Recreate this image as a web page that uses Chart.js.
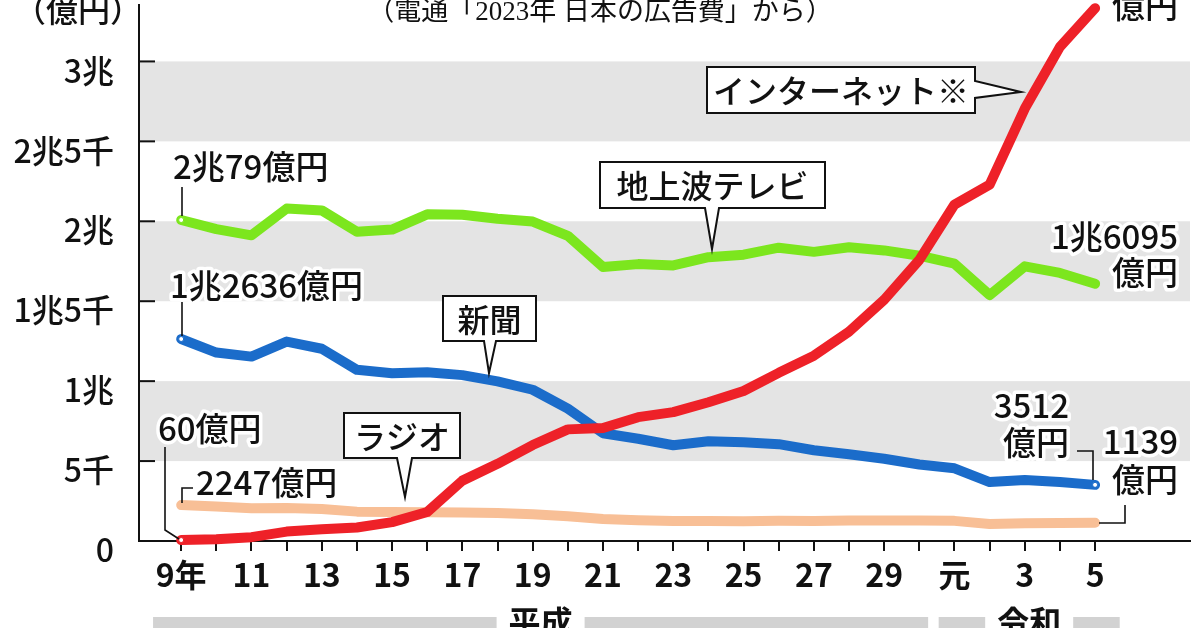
<!DOCTYPE html>
<html lang="ja">
<head>
<meta charset="UTF-8">
<title>日本の広告費の推移</title>
<script src="https://cdn.jsdelivr.net/npm/chart.js"></script>
<style>
  body { margin: 0; background: #fff; }
  #wrap { width: 1200px; height: 628px; }
</style>
</head>
<body>
<div id="wrap"><canvas id="adChart" width="1200" height="628"></canvas></div>
<script>
// 電通「2023年 日本の広告費」 平成9年(1997)〜令和5年(2023) 単位:億円
const years = [1997, 1998, 1999, 2000, 2001, 2002, 2003, 2004, 2005, 2006, 2007, 2008, 2009,
               2010, 2011, 2012, 2013, 2014, 2015, 2016, 2017, 2018, 2019, 2020, 2021, 2022, 2023];
const yearLabels = ['9年', '', '11', '', '13', '', '15', '', '17', '', '19', '', '21', '',
                    '23', '', '25', '', '27', '', '29', '', '元', '', '3', '', '5'];

const internet  = [60, 114, 241, 590, 735, 845, 1183, 1814, 3777, 4826, 6003, 6983, 7069,
                   7747, 8062, 8680, 9381, 10519, 11594, 13100, 15094, 17589, 21048, 22290, 27052, 30912, 33330];
const tv        = [20079, 19505, 19121, 20793, 20681, 19351, 19480, 20436, 20411, 20161, 19981, 19092, 17139,
                   17321, 17237, 17757, 17913, 18347, 18088, 18374, 18178, 17848, 17345, 15386, 17184, 16768, 16095];
const newspaper = [12636, 11787, 11535, 12474, 12027, 10707, 10500, 10559, 10377, 9986, 9462, 8276, 6739,
                   6396, 5990, 6242, 6170, 6057, 5679, 5431, 5147, 4784, 4547, 3688, 3815, 3697, 3512];
const radio     = [2247, 2153, 2043, 2071, 1998, 1837, 1807, 1795, 1778, 1744, 1671, 1549, 1370,
                   1299, 1247, 1246, 1243, 1272, 1254, 1285, 1290, 1278, 1260, 1066, 1106, 1129, 1139];

const yTicks = [0, 5000, 10000, 15000, 20000, 25000, 30000];
const yTickLabels = ['0', '5千', '1兆', '1兆5千', '2兆', '2兆5千', '3兆'];
const bands = [[5000, 10000], [15000, 20000], [25000, 30000]];
const eras = [{ name: '平成', from: 1996.2, to: 2018.25 }, { name: '令和', from: 2018.55, to: 2023.7 }];

const JP = "'Noto Sans CJK JP', 'Noto Sans', sans-serif";
const font = (size, weight) => `${weight || 500} ${size}px ${JP}`;

function haloText(ctx, text, x, y, align, size, weight) {
  ctx.save();
  ctx.font = font(size, weight);
  ctx.textAlign = align;
  ctx.textBaseline = 'middle';
  ctx.lineJoin = 'round';
  ctx.strokeStyle = '#fff';
  ctx.lineWidth = 7;
  ctx.strokeText(text, x, y);
  ctx.fillStyle = '#111';
  ctx.fillText(text, x, y);
  ctx.restore();
}

function leader(ctx, pts) {
  ctx.save();
  ctx.strokeStyle = '#111';
  ctx.lineWidth = 1.6;
  ctx.beginPath();
  pts.forEach((p, i) => i ? ctx.lineTo(p[0], p[1]) : ctx.moveTo(p[0], p[1]));
  ctx.stroke();
  ctx.restore();
}

// box: [l, t, r, b]; side 'bottom' or 'right'; base: [a, b] along that edge; tip: [x, y]
function callout(ctx, text, box, side, base, tip) {
  const [l, t, r, b] = box;
  ctx.save();
  ctx.beginPath();
  ctx.moveTo(l, t);
  ctx.lineTo(r, t);
  if (side === 'right') {
    ctx.lineTo(r, base[0]); ctx.lineTo(tip[0], tip[1]); ctx.lineTo(r, base[1]);
    ctx.lineTo(r, b); ctx.lineTo(l, b);
  } else {
    ctx.lineTo(r, b); ctx.lineTo(base[1], b); ctx.lineTo(tip[0], tip[1]); ctx.lineTo(base[0], b);
    ctx.lineTo(l, b);
  }
  ctx.closePath();
  ctx.fillStyle = '#fff';
  ctx.fill();
  ctx.strokeStyle = '#111';
  ctx.lineWidth = 2;
  ctx.lineJoin = 'miter';
  ctx.stroke();
  ctx.font = font(32, 500);
  ctx.fillStyle = '#111';
  ctx.textAlign = 'center';
  ctx.textBaseline = 'middle';
  ctx.fillText(text, (l + r) / 2, (t + b) / 2 + 1);
  ctx.restore();
}

const decor = {
  id: 'decor',
  beforeDraw(chart) {
    const { ctx, chartArea: a, scales: { y } } = chart;
    ctx.save();
    ctx.fillStyle = '#fff';
    ctx.fillRect(0, 0, chart.width, chart.height);
    ctx.fillStyle = '#e4e4e4';
    bands.forEach(([lo, hi]) => {
      const top = y.getPixelForValue(hi), bot = y.getPixelForValue(lo);
      ctx.fillRect(a.left + 1, top, a.right - a.left - 1, bot - top);
    });
    ctx.restore();
  },
  beforeDatasetsDraw(chart) {
    const { ctx, chartArea: a, scales: { y } } = chart;
    ctx.save();
    ctx.strokeStyle = '#111';
    ctx.lineWidth = 2;
    yTicks.forEach(v => {
      const py = y.getPixelForValue(v);
      ctx.beginPath();
      ctx.moveTo(a.left, py);
      ctx.lineTo(a.left + 16, py);
      ctx.stroke();
    });
    ctx.restore();
  },
  afterDatasetsDraw(chart) {
    const { ctx, scales: { x } } = chart;

    // header
    ctx.save();
    ctx.fillStyle = '#111';
    ctx.textBaseline = 'middle';
    ctx.font = font(32, 500);
    ctx.textAlign = 'left';
    ctx.fillText('（億円）', 14, 10);
    ctx.font = "27px 'Liberation Serif', 'Noto Sans CJK JP', serif";
    ctx.textAlign = 'center';
    ctx.fillText('（電通「2023年 日本の広告費」から）', 600, 13);
    ctx.restore();

    // era bars
    ctx.save();
    ctx.font = font(32, 700);
    eras.forEach(e => {
      const l = x.getPixelForValue(e.from), r = x.getPixelForValue(e.to);
      const mid = (l + r) / 2;
      const half = ctx.measureText(e.name).width / 2 + 12;
      ctx.fillStyle = '#d2d2d2';
      ctx.fillRect(l, 617, mid - half - l, 11);
      ctx.fillRect(mid + half, 617, r - mid - half, 11);
      ctx.fillStyle = '#111';
      ctx.textAlign = 'center';
      ctx.textBaseline = 'middle';
      ctx.fillText(e.name, mid, 622);
    });
    ctx.restore();

    // callouts
    callout(ctx, 'インターネット※', [707, 67, 975, 113], 'right', [81, 98], [1021, 92]);
    callout(ctx, '地上波テレビ', [600, 162, 825, 208], 'bottom', [705, 719], [712, 249]);
    callout(ctx, '新聞', [443, 296, 536, 341], 'bottom', [484, 496], [489, 373]);
    callout(ctx, 'ラジオ', [344, 413, 460, 458], 'bottom', [397, 412], [405, 497]);

    // value labels & leaders
    leader(ctx, [[182, 187], [182, 216]]);
    haloText(ctx, '2兆79億円', 173, 166, 'left', 33);
    leader(ctx, [[182, 302], [182, 336]]);
    haloText(ctx, '1兆2636億円', 170, 285, 'left', 33);
    leader(ctx, [[165, 447], [165, 530], [179, 539]]);
    haloText(ctx, '60億円', 158, 428, 'left', 33);
    leader(ctx, [[182, 503], [182, 488], [193, 488]]);
    haloText(ctx, '2247億円', 196, 482, 'left', 33);

    haloText(ctx, '1兆6095', 1178, 236, 'right', 33);
    haloText(ctx, '億円', 1178, 272, 'right', 33);
    leader(ctx, [[1077, 451], [1093, 451], [1093, 480]]);
    haloText(ctx, '3512', 1069, 405, 'right', 33);
    haloText(ctx, '億円', 1069, 442, 'right', 33);
    leader(ctx, [[1125, 505], [1125, 523], [1099, 523]]);
    haloText(ctx, '1139', 1178, 441, 'right', 33);
    haloText(ctx, '億円', 1178, 479, 'right', 33);
    haloText(ctx, '3兆3330', 1178, -31, 'right', 33);
    haloText(ctx, '億円', 1178, 5, 'right', 33);
  }
};

const series = [
  { label: 'インターネット', values: internet, color: '#ee2128', order: 0, dots: [0] },
  { label: '新聞', values: newspaper, color: '#1b6cca', order: 1, dots: [0, 26] },
  { label: '地上波テレビ', values: tv, color: '#7ce61e', order: 2, dots: [0] },
  { label: 'ラジオ', values: radio, color: '#f8bf96', order: 3, dots: [] }
];

new Chart(document.getElementById('adChart'), {
  type: 'line',
  data: {
    datasets: series.map(s => ({
      label: s.label,
      data: years.map((yr, i) => ({ x: yr, y: s.values[i] })),
      borderColor: s.color,
      borderWidth: 10,
      borderJoinStyle: 'round',
      borderCapStyle: 'round',
      tension: 0,
      clip: false,
      order: s.order,
      pointRadius: c => s.dots.includes(c.dataIndex) ? 2.5 : 0,
      pointBackgroundColor: '#fff',
      pointBorderColor: s.color,
      pointBorderWidth: 1
    }))
  },
  options: {
    responsive: false,
    devicePixelRatio: 1,
    animation: false,
    layout: { padding: { top: 0, left: 0, right: 10, bottom: 0 } },
    plugins: { legend: { display: false }, tooltip: { enabled: false } },
    scales: {
      x: {
        type: 'linear',
        min: 1995.8,
        max: 2025.7,
        afterBuildTicks: sc => { sc.ticks = years.map(v => ({ value: v })); },
        afterFit: sc => { sc.height = 87; sc.paddingLeft = 0; sc.paddingRight = 0; },
        ticks: {
          autoSkip: false,
          maxRotation: 0,
          padding: 5,
          color: '#111',
          font: { family: JP, size: 32, weight: 'bold' },
          callback: (v, i) => yearLabels[i]
        },
        grid: { drawOnChartArea: false, drawTicks: true, tickLength: 10, color: '#111', lineWidth: 2 },
        border: { display: true, color: '#111', width: 2 }
      },
      y: {
        type: 'linear',
        min: 0,
        max: 33530,
        afterBuildTicks: sc => { sc.ticks = yTicks.map(v => ({ value: v })); },
        afterFit: sc => { sc.width = 139; sc.paddingTop = 0; sc.paddingBottom = 0; },
        ticks: {
          padding: 17,
          labelOffset: 9,
          color: '#111',
          font: { family: JP, size: 32, weight: 500 },
          callback: (v, i) => yTickLabels[i]
        },
        grid: { display: false },
        border: { display: true, color: '#111', width: 2 }
      }
    }
  },
  plugins: [decor]
});
</script>
</body>
</html>
